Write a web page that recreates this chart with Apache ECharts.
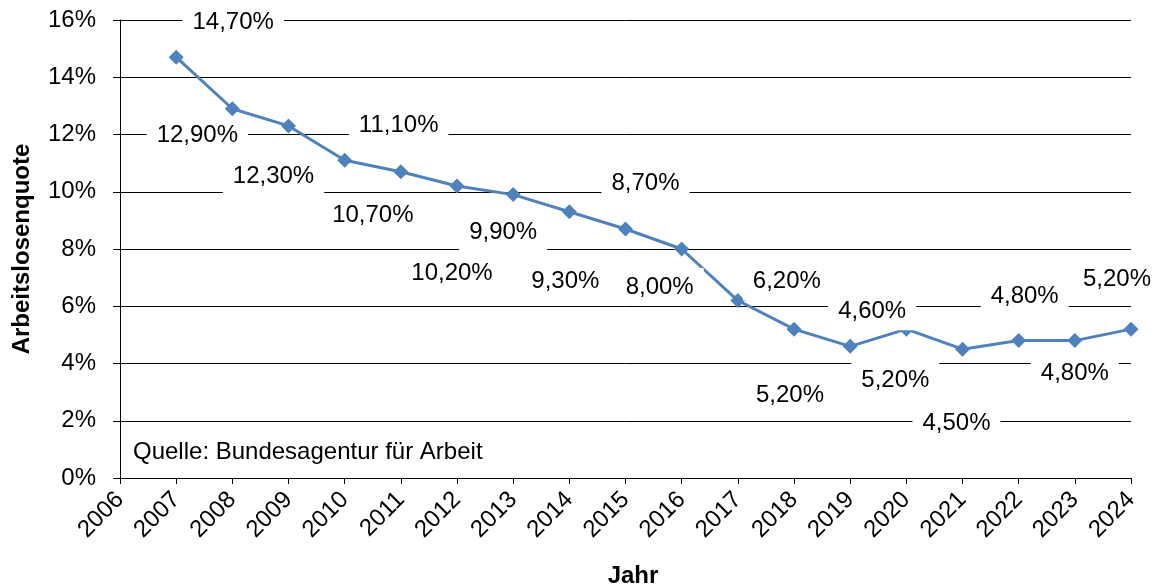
<!DOCTYPE html>
<html>
<head>
<meta charset="utf-8">
<script src="https://cdn.jsdelivr.net/npm/echarts@6/dist/echarts.min.js"></script>
<style>
html, body { margin: 0; padding: 0; background: #fff; }
#chart { width: 1158px; height: 588px; }
</style>
</head>
<body>
<div id="chart"></div>
<script>
// Categories (x axis) – 2006 is only the axis origin, no value
const years = ['2006','2007','2008','2009','2010','2011','2012','2013','2014','2015','2016','2017','2018','2019','2020','2021','2022','2023','2024'];
// Unemployment rate in percent
const rates = [null, 14.7, 12.9, 12.3, 11.1, 10.7, 10.2, 9.9, 9.3, 8.7, 8.0, 6.2, 5.2, 4.6, 5.2, 4.5, 4.8, 4.8, 5.2];
// Label offsets (px) relative to each point, as placed in the reference
const labelOffsets = [null, [57,-35], [-35,27], [-15,50], [54,-35], [-28,44], [-5,87], [-10,38], [-4,70], [20,-46], [-22,38], [49,-19], [-4,66], [22,-35], [-11,51], [-6,74], [6,-44], [0,33], [-14,-50]];
const yTicks = { min: 0, max: 16, interval: 2 };
const sourceText = 'Quelle: Bundesagentur für Arbeit';

const FONT = "'Liberation Sans', Arial, sans-serif";

const chart = echarts.init(document.getElementById('chart'));
chart.setOption({
  animation: false,
  backgroundColor: '#fff',
  grid: { left: 120, right: 27, top: 20, bottom: 110, containLabel: false, outerBoundsMode: 'none' },
  xAxis: {
    type: 'category',
    data: years,
    boundaryGap: false,
    name: 'Jahr',
    nameLocation: 'middle',
    nameGap: 86,
    nameTextStyle: { fontFamily: FONT, fontSize: 24, fontWeight: 'bold', color: '#000', padding: [0, 0, 0, 15] },
    axisLine: { show: true, lineStyle: { color: '#000', width: 1 } },
    axisTick: { show: true, alignWithLabel: true, length: 6, lineStyle: { color: '#000' } },
    axisLabel: { rotate: 45, margin: 18, fontFamily: FONT, fontSize: 24, color: '#000', interval: 0 },
    splitLine: { show: false }
  },
  yAxis: {
    type: 'value',
    min: yTicks.min, max: yTicks.max, interval: yTicks.interval,
    name: 'Arbeitslosenquote',
    nameLocation: 'middle',
    nameRotate: 90,
    nameGap: 86,
    nameTextStyle: { fontFamily: FONT, fontSize: 24, fontWeight: 'bold', color: '#000' },
    axisLine: { show: true, lineStyle: { color: '#000', width: 1 } },
    axisTick: { show: true, length: 7, lineStyle: { color: '#000' } },
    axisLabel: { margin: 24, fontFamily: FONT, fontSize: 24, color: '#000', formatter: '{value}%' },
    splitLine: { show: true, lineStyle: { color: '#000', width: 1 } }
  },
  graphic: [{
    type: 'text',
    left: 133,
    top: 440,
    style: { text: sourceText, fontFamily: FONT, fontSize: 24, fill: '#000' }
  }],
  series: [{
    type: 'line',
    data: rates,
    symbol: 'diamond',
    symbolSize: 15,
    showSymbol: true,
    lineStyle: { color: '#4F81BD', width: 3 },
    itemStyle: { color: '#4F81BD' },
    label: {
      show: true,
      position: 'inside',
      align: 'center',
      verticalAlign: 'middle',
      fontFamily: FONT,
      fontSize: 24,
      color: '#000',
      backgroundColor: '#fff',
      padding: [7, 10],
      formatter: p => p.value.toFixed(2).replace('.', ',') + '%'
    },
    labelLayout: function (params) {
      const o = labelOffsets[params.dataIndex] || [0, 0];
      return { dx: o[0], dy: o[1], hideOverlap: false, moveOverlap: false };
    },
    z: 3
  }]
});
</script>
</body>
</html>
